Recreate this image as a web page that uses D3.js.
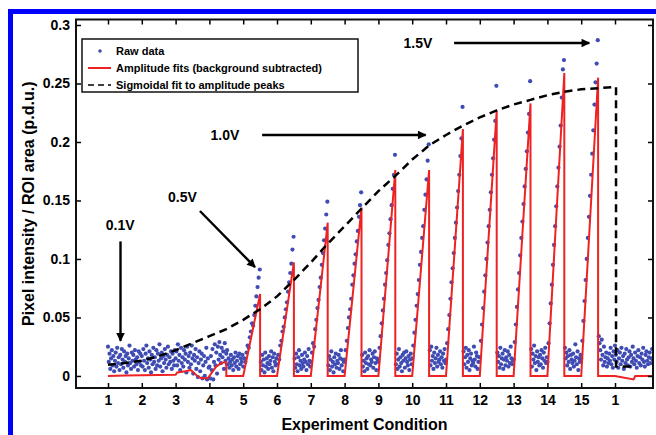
<!DOCTYPE html>
<html>
<head>
<meta charset="utf-8">
<script src="https://cdn.jsdelivr.net/npm/d3@7"></script>
<style>
  body { margin: 0; background: #fff; }
  svg { display: block; font-family: "Liberation Sans", Arial, sans-serif; font-weight: bold; }
</style>
</head>
<body>
<div id="chart"></div>
<script>
// x positions of the experiment conditions (16th run repeats condition 1)
const conditions = [1, 2, 3, 4, 5, 6, 7, 8, 9, 10, 11, 12, 13, 14, 15, 16];
const xTickLabels = ['1', '2', '3', '4', '5', '6', '7', '8', '9', '10', '11', '12', '13', '14', '15', '1'];
const yTicks = [0, 0.05, 0.1, 0.15, 0.2, 0.25, 0.3];

// raw data, in 1/1000 p.d.u.
// conditions 1-4: baseline noise over the whole condition
const rawBaseline = [
    [25, 12, 19, 6, 15, 22, 9, 17, 4, 13, 20, 8, 24, 11, 16, 5, 18, 10, 23, 14, 7, 21, 12, 17, 3, 19, 9, 15, 26, 11, 6, 20, 13, 18, 8, 22, 14, 10, 16, 5, 21, 12, 19, 9],
    [17, 8, 23, 13, 5, 19, 26, 11, 15, 7, 21, 14, 3, 18, 10, 24, 12, 16, 6, 22, 9, 19, 13, 27, 8, 15, 20, 4, 17, 11, 23, 14, 7, 18, 25, 10, 16, 12, 21, 6, 19, 13, 9, 22],
    [15, 21, 9, 27, 13, 18, 5, 24, 11, 16, 8, 22, 14, 19, 3, 25, 12, 17, 7, 20, 10, 26, 15, 2, 18, 13, 23, 6, 16, -1, 11, 21, 4, 14, 19, -2, 9, 17, 0, 12, 24, -3, 15, 7],
    [8, -2, 17, 5, 23, -3, 12, 27, 9, 20, 2, 25, 14, 29, 18, 11, 24, 16, 21, 6, 28, 13, 19, 22, 10, 15, 7, 12, 18, 9, 14, 5, 16, 11, 20, 8, 13, 17, 6, 19, 10, 15, 12, 18]
];
// conditions 5-15: rising samples of the first half
const rawRamp = [
    [8, 15, 12, 20, 26, 24, 33, 38, 45, 43, 52, 60, 68, 76, 84, 91],
    [10, 18, 14, 26, 30, 38, 42, 50, 57, 63, 72, 80, 88, 96, 108, 119],
    [12, 20, 28, 25, 40, 48, 58, 65, 76, 84, 95, 105, 116, 126, 138, 149],
    [14, 22, 30, 41, 50, 57, 66, 78, 86, 96, 104, 115, 124, 136, 146, 157],
    [12, 24, 34, 45, 56, 66, 78, 88, 99, 112, 122, 134, 146, 160, 172, 189],
    [15, 26, 37, 48, 60, 70, 82, 95, 106, 118, 128, 142, 155, 168, 184, 198],
    [14, 28, 40, 52, 66, 80, 92, 105, 118, 131, 144, 158, 172, 188, 203, 230],
    [16, 30, 44, 58, 72, 86, 100, 114, 128, 142, 157, 172, 186, 202, 218, 248],
    [14, 29, 44, 59, 74, 88, 103, 118, 132, 147, 162, 177, 192, 208, 224, 252],
    [12, 28, 45, 62, 78, 95, 112, 128, 145, 162, 178, 196, 214, 238, 262, 270],
    [15, 30, 47, 64, 82, 100, 118, 136, 154, 172, 190, 210, 232, 251, 267, 287]
];
// conditions 5-15: background noise of the second half
const rawRest = [
    [12, 5, 18, 9, 14, 3, 20, 8, 15, 11, 6, 17, 10, 13, 21, 7, 16, 4, 19, 12, 9, 15],
    [15, 7, 19, 10, 4, 16, 22, 9, 13, 6, 18, 11, 8, 14, 20, 12, 5, 17, 10, 23, 13, 8],
    [9, 17, 5, 14, 21, 8, 12, 3, 16, 10, 19, 7, 13, 11, 18, 6, 15, 22, 9, 14, 4, 12],
    [18, 8, 13, 4, 20, 11, 15, 6, 17, 10, 22, 9, 14, 12, 19, 7, 16, 21, 11, 5, 15, 13],
    [10, 19, 6, 14, 23, 8, 16, 11, 4, 18, 13, 20, 7, 15, 21, 12, 9, 17, 5, 14, 19, 10],
    [22, 9, 25, 13, 17, 6, 20, 11, 15, 24, 8, 18, 12, 14, 21, 10, 16, 7, 19, 13, 23, 11],
    [21, 10, 16, 24, 7, 18, 12, 22, 5, 15, 19, 9, 13, 11, 25, 14, 8, 20, 17, 6, 12, 16],
    [20, 12, 17, 7, 24, 10, 15, 19, 6, 14, 22, 9, 16, 13, 21, 8, 18, 11, 25, 15, 10, 13],
    [23, 8, 19, 14, 26, 11, 17, 5, 21, 12, 16, 9, 18, 10, 22, 15, 7, 20, 13, 24, 11, 16],
    [24, 15, 20, 9, 17, 12, 22, 6, 18, 14, 11, 19, 8, 13, 27, 16, 10, 21, 5, 15, 12, 18],
    [34, 28, 22, 14, 31, 18, 9, 25, 12, 16, 20, 8, 15, 11, 19, 13, 24, 10, 17, 7, 21, 14]
];
// repeated condition 1 at the end
const rawTail = [26, 18, 12, 22, 7, 15, 20, 10, 24, 13, 17, 6, 19, 11, 23, 14, 9, 16, 21, 8, 18, 12, 25, 15,
    10, 20, 13, 7, 17, 22, 11, 16, 9, 19, 14, 24, 12, 8, 18, 21, 13, 10, 16, 20, 11, 15, 23, 14];

// amplitude fit: baseline part (conditions 1-4) then peaks of the ramps (conditions 5-15)
const baseFitX = [1.0, 1.5, 2.0, 2.5, 3.0, 3.05, 3.3, 3.45, 3.6, 3.75, 3.95, 4.05, 4.2, 4.35, 4.48, 4.5, 4.5, 5.0];
const baseFitY = [0, 0.0003, 0.0005, 0.0008, 0.001, 0.003, 0.004, 0.005, 0.001, -0.002, -0.002, 0.002, 0.008, 0.011, 0.012, 0.008, 0, 0];
const rampConditions = [5, 6, 7, 8, 9, 10, 11, 12, 13, 14, 15];
const rampPeaks = [0.070, 0.097, 0.131, 0.144, 0.176, 0.176, 0.211, 0.227, 0.233, 0.259, 0.255];
const tailFitX = [16.0, 16.55, 16.6, 17.12];
const tailFitY = [0, -0.003, 0, 0];

// sigmoidal fit to the amplitude peaks
const sigX = [1, 1.5, 2, 2.5, 3, 3.5, 4, 4.5, 5, 5.5, 6, 6.5, 7, 7.5, 8, 8.5, 9, 9.5, 10, 10.5,
    11, 11.5, 12, 12.5, 13, 13.5, 14, 14.5, 15, 15.5, 16.03, 16.03, 16.6];
const sigY = [0.0095, 0.011, 0.013, 0.017, 0.022, 0.028, 0.034, 0.040, 0.048, 0.057, 0.068, 0.082, 0.097, 0.113, 0.128, 0.143,
    0.158, 0.171, 0.185, 0.197, 0.206, 0.214, 0.221, 0.227, 0.232, 0.236, 0.240, 0.243, 0.245, 0.246, 0.247, 0.008, 0.008];

const width = 656, height = 435;
const margin = { top: 19.5, right: 3, bottom: 47, left: 76 };

const svg = d3.select('#chart').append('svg')
    .attr('width', width)
    .attr('height', height);

// blue frame of the figure
svg.append('rect').attr('x', 8).attr('y', 9).attr('width', width - 8).attr('height', 5).attr('fill', '#0000ff');
svg.append('rect').attr('x', 8).attr('y', 9).attr('width', 5).attr('height', height - 9).attr('fill', '#0000ff');

const x = d3.scaleLinear().domain([0.0533, 17.124]).range([margin.left, width - margin.right]);
const y = d3.scaleLinear().domain([-0.0103, 0.3047]).range([height - margin.bottom, margin.top]);

const defs = svg.append('defs');
defs.append('clipPath').attr('id', 'plot')
    .append('rect')
    .attr('x', margin.left).attr('y', margin.top)
    .attr('width', width - margin.left - margin.right)
    .attr('height', height - margin.top - margin.bottom);

defs.append('marker')
    .attr('id', 'head')
    .attr('viewBox', '0 0 10 10')
    .attr('refX', 9).attr('refY', 5)
    .attr('markerWidth', 4.2).attr('markerHeight', 3.6)
    .attr('markerUnits', 'strokeWidth')
    .attr('orient', 'auto')
    .append('path').attr('d', 'M0,0 L10,5 L0,10 z').attr('fill', '#000');

const plot = svg.append('g').attr('clip-path', 'url(#plot)');

// raw points (samples are evenly spaced inside each part of a condition)
const raw = [];
rawBaseline.forEach((row, i) => {
    row.forEach((v, j) => raw.push({ x: conditions[i] + j / row.length, y: v / 1000 }));
});
rampConditions.forEach((c, i) => {
    const ramp = rawRamp[i];
    ramp.forEach((v, j) => raw.push({ x: c + j * 0.49 / (ramp.length - 1), y: v / 1000 }));
    const rest = rawRest[i];
    rest.forEach((v, j) => raw.push({ x: c + 0.52 + j * 0.46 / (rest.length - 1), y: v / 1000 }));
});
rawTail.forEach((v, j) => raw.push({ x: 16 + j * 1.12 / (rawTail.length - 1), y: v / 1000 }));

// amplitude fit polyline
const fit = baseFitX.map((d, i) => [d, baseFitY[i]]);
rampConditions.forEach((c, i) => {
    fit.push([c, 0], [c + 0.5, rampPeaks[i]], [c + 0.5, 0]);
});
tailFitX.forEach((d, i) => fit.push([d, tailFitY[i]]));

const line = d3.line().x(d => x(d[0])).y(d => y(d[1]));

plot.selectAll('.dot')
    .data(raw)
    .enter().append('circle')
    .attr('class', 'dot')
    .attr('cx', d => x(d.x))
    .attr('cy', d => y(d.y))
    .attr('r', 2.1)
    .attr('fill', '#3f4cb4');

plot.append('path')
    .datum(fit)
    .attr('d', line)
    .attr('fill', 'none')
    .attr('stroke', '#ee2222')
    .attr('stroke-width', 2);

plot.append('path')
    .datum(sigX.map((d, i) => [d, sigY[i]]))
    .attr('d', line)
    .attr('fill', 'none')
    .attr('stroke', '#000')
    .attr('stroke-width', 2.5)
    .attr('stroke-dasharray', '8,5');

// axes, ticks point inwards
const axisStyle = g => {
    g.select('.domain').remove();
    g.selectAll('line').attr('stroke', '#000').attr('stroke-width', 1.5);
    g.selectAll('text').attr('fill', '#000').style('font-size', '14px').style('font-weight', 'bold');
};

svg.append('g')
    .attr('transform', `translate(0,${height - margin.bottom})`)
    .call(d3.axisBottom(x).tickValues(conditions).tickFormat((d, i) => xTickLabels[i]).tickSize(-5).tickPadding(7))
    .call(axisStyle);

svg.append('g')
    .attr('transform', `translate(0,${margin.top})`)
    .call(d3.axisTop(x).tickValues(conditions).tickFormat('').tickSize(-5))
    .call(axisStyle);

svg.append('g')
    .attr('transform', `translate(${margin.left},0)`)
    .call(d3.axisLeft(y).tickValues(yTicks).tickFormat(d => d3.format('~g')(d)).tickSize(-5).tickPadding(6))
    .call(axisStyle);

svg.append('g')
    .attr('transform', `translate(${width - margin.right},0)`)
    .call(d3.axisRight(y).tickValues(yTicks).tickFormat('').tickSize(-5))
    .call(axisStyle);

svg.append('rect')
    .attr('x', margin.left).attr('y', margin.top)
    .attr('width', width - margin.left - margin.right)
    .attr('height', height - margin.top - margin.bottom)
    .attr('fill', 'none')
    .attr('stroke', '#111')
    .attr('stroke-width', 2);

// voltage annotations, placed in data coordinates
const notes = [
    { text: '0.1V', tx: 1.36, ty: 0.129, x1: 1.37, y1: 0.115, x2: 1.37, y2: 0.030 },
    { text: '0.5V', tx: 3.2, ty: 0.153, x1: 3.72, y1: 0.141, x2: 5.35, y2: 0.093 },
    { text: '1.0V', tx: 4.46, ty: 0.206, x1: 5.56, y1: 0.206, x2: 10.4, y2: 0.206 },
    { text: '1.5V', tx: 10.17, ty: 0.2846, x1: 11.24, y1: 0.2846, x2: 15.24, y2: 0.2846 }
];

notes.forEach(n => {
    svg.append('text')
        .attr('x', x(n.tx)).attr('y', y(n.ty))
        .attr('dy', '0.36em')
        .attr('text-anchor', 'middle')
        .style('font-size', '14px')
        .text(n.text);
    svg.append('line')
        .attr('x1', x(n.x1)).attr('y1', y(n.y1))
        .attr('x2', x(n.x2)).attr('y2', y(n.y2))
        .attr('stroke', '#000')
        .attr('stroke-width', 2.4)
        .attr('marker-end', 'url(#head)');
});

// legend
const legend = svg.append('g');
legend.append('rect')
    .attr('x', 82).attr('y', 39).attr('width', 276).attr('height', 53)
    .attr('fill', '#fff').attr('stroke', '#111').attr('stroke-width', 1.5);

const legendItems = [
    { label: 'Raw data', type: 'dot' },
    { label: 'Amplitude fits (background subtracted)', type: 'red' },
    { label: 'Sigmoidal fit to amplitude peaks', type: 'dash' }
];

legendItems.forEach((d, i) => {
    const ly = 51 + i * 17;
    if (d.type === 'dot') {
        legend.append('circle').attr('cx', 100).attr('cy', ly).attr('r', 1.8).attr('fill', '#3f4cb4');
    } else {
        legend.append('line')
            .attr('x1', 88).attr('x2', 111).attr('y1', ly).attr('y2', ly)
            .attr('stroke', d.type === 'red' ? '#ee2222' : '#000')
            .attr('stroke-width', d.type === 'red' ? 2 : 1.6)
            .attr('stroke-dasharray', d.type === 'dash' ? '6,4' : null);
    }
    legend.append('text')
        .attr('x', 116).attr('y', ly)
        .attr('dy', '0.35em')
        .style('font-size', '11px')
        .text(d.label);
});

// axis labels
svg.append('text')
    .attr('x', (margin.left + width - margin.right) / 2)
    .attr('y', 430)
    .attr('text-anchor', 'middle')
    .style('font-size', '16px')
    .text('Experiment Condition');

svg.append('text')
    .attr('transform', `translate(34,${(margin.top + height - margin.bottom) / 2}) rotate(-90)`)
    .attr('text-anchor', 'middle')
    .style('font-size', '16px')
    .text('Pixel intensity / ROI area (p.d.u.)');
</script>
</body>
</html>
